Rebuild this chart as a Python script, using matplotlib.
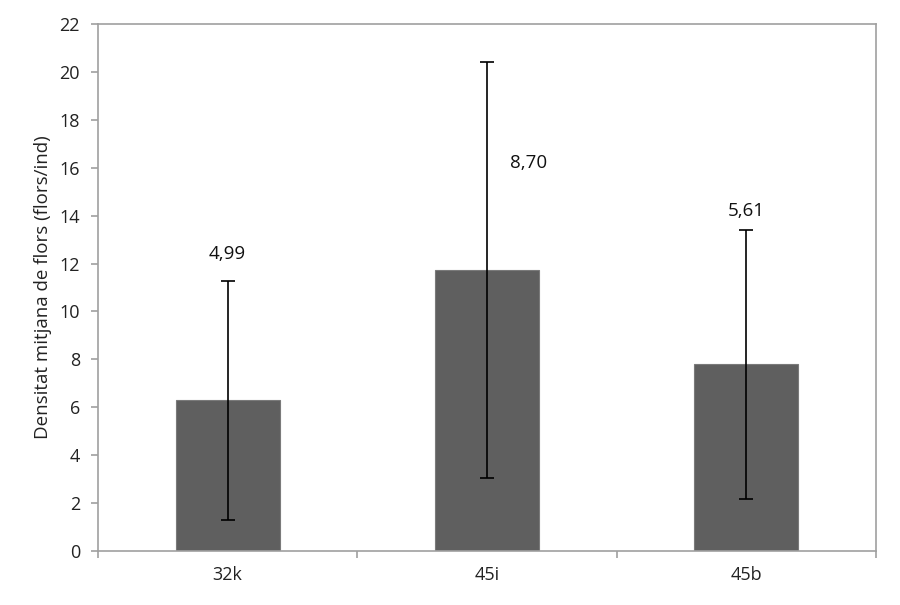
import matplotlib
matplotlib.use('Agg')
import matplotlib.pyplot as plt
import numpy as np

# Dades: densitat mitjana de flors per parcel·la
parceles = ['32k', '45i', '45b']
mitjana = [6.29, 11.73, 7.80]
desv_est = [4.99, 8.70, 5.61]
etiquetes = ['4,99', '8,70', '5,61']

plt.rcParams['font.family'] = ['Open Sans', 'DejaVu Sans']

fig = plt.figure(figsize=(9, 6.05), dpi=100)
ax = fig.add_axes([0.1089, 0.0893, 0.9733 - 0.1089, 0.9603 - 0.0893])

x = np.arange(len(parceles))
ax.bar(x, mitjana, width=0.4, color='#5f5f5f', edgecolor='#7a7a7a', linewidth=0.8, zorder=2)
ax.errorbar(x, mitjana, yerr=desv_est, fmt='none', ecolor='black', elinewidth=1.2,
            capsize=5, capthick=1.2, zorder=3)

# Etiquetes de la desviació (posició com a l'original)
offsets = [(0, 1.1), (0.16, 0.0), (0, 0.8)]
for i, (lab, (dx, dy)) in enumerate(zip(etiquetes, offsets)):
    if i == 1:
        ypos = 16.2
    else:
        ypos = mitjana[i] + desv_est[i] + dy
    ax.text(x[i] + dx, ypos, lab, ha='center', va='center', fontsize=13.5, color='#111111')

ax.set_xlim(-0.5, 2.5)
ax.set_ylim(0, 22)
ax.set_yticks(np.arange(0, 23, 2))
ax.set_xticks(x)
ax.set_xticklabels(parceles)
ax.set_xticks([-0.5, 0.5, 1.5, 2.5], minor=True)
ax.tick_params(axis='x', which='major', length=0, pad=11, labelsize=13, labelcolor='#222222')
ax.tick_params(axis='x', which='minor', length=5, color='#a0a0a0', width=1.2)
ax.tick_params(axis='y', length=5, color='#a0a0a0', width=1.2, labelsize=13,
               labelcolor='#222222', pad=8)

for s in ax.spines.values():
    s.set_color('#a0a0a0')
    s.set_linewidth(1.2)

ax.set_ylabel('Densitat mitjana de flors (flors/ind)', fontsize=13.5, color='#222222', labelpad=5)

fig.savefig('out.png', dpi=100)
